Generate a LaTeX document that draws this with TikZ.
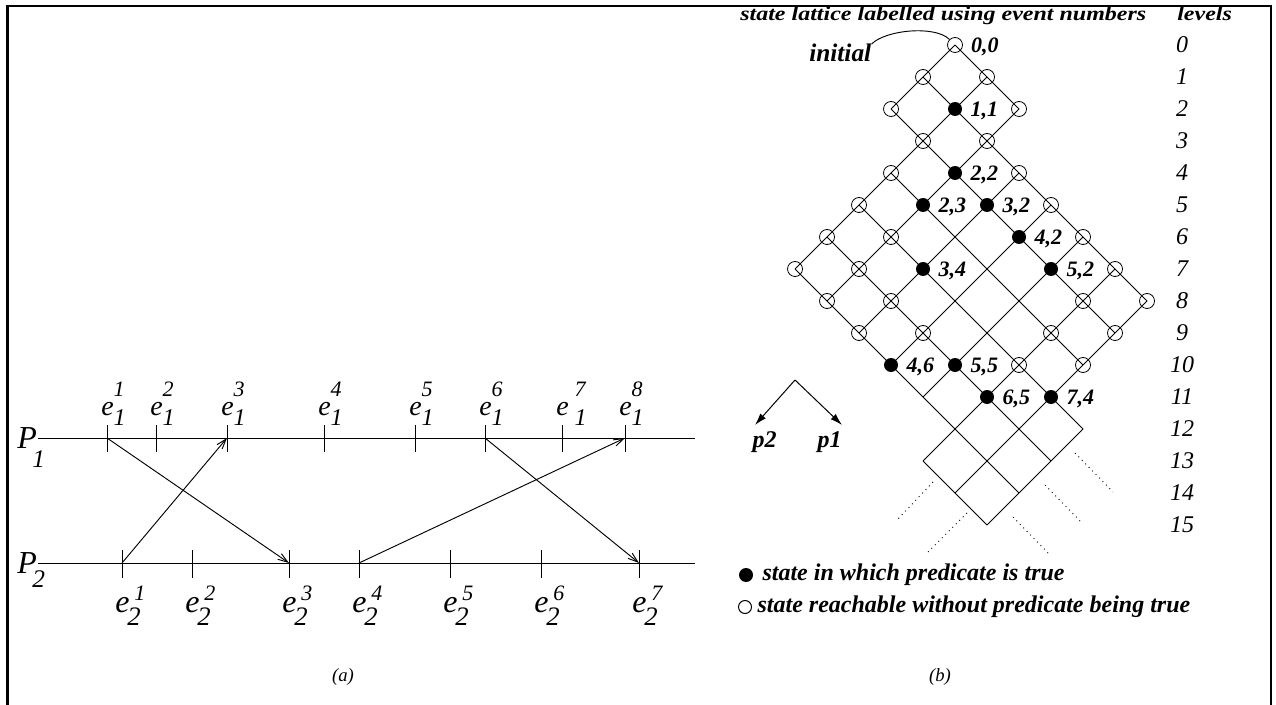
\documentclass[tikz,border=0pt]{standalone}
\usepackage{fontspec}
\setmainfont{Liberation Serif}
\newfontfamily\widefont[FakeStretch=1.2]{Liberation Serif}
\usetikzlibrary{positioning,arrows.meta}

\newcommand{\supf}{\fontsize{16.5}{18}\selectfont\itshape}
\newcommand{\subf}{\fontsize{18}{20}\selectfont\itshape}
\newcommand{\bsubf}{\fontsize{20}{22}\selectfont\itshape}
\newcommand{\pdig}{\fontsize{19}{21}\selectfont\itshape}
% event labels: e with process number below and event number above
\newcommand{\evtop}[3][0pt]{\textit{e}\kern#1\rlap{\raisebox{13.5pt}{\supf #3}}\raisebox{-7.5pt}{\subf #2}}
\newcommand{\evbot}[2]{{\fontsize{24}{26}\selectfont\textit{e}}\rlap{\kern3.75pt\raisebox{9pt}{\supf #2}}\kern-1.5pt\raisebox{-9.75pt}{\bsubf #1}}

\begin{document}
\begin{tikzpicture}[x=0.75pt, y=-0.75pt,
  frame/.style={line width=1.8pt},
  proc/.style={line width=0.75pt},
  msg/.style={line width=0.7pt, -{Straight Barb[length=7.5pt,width=5pt]}},
  dirarrow/.style={line width=0.75pt, -{Latex[length=9pt,width=5.5pt]}},
  latline/.style={line width=0.6pt},
  dots/.style={line width=0.7pt, dash pattern=on 0.7pt off 3pt},
  reach/.style={circle, draw, line width=0.6pt, minimum size=11.25pt, inner sep=0pt},
  hit/.style={circle, fill=black, minimum size=10.5pt, inner sep=0pt},
  lab/.style={font=\bfseries\itshape\fontsize{16.5}{18}\selectfont, inner sep=0pt, text depth=0pt},
  tag/.style={font=\bfseries\itshape\fontsize{18}{20}\selectfont, inner sep=0pt},
  head/.style={font=\widefont\bfseries\itshape\fontsize{15}{18}\selectfont, inner sep=0pt, anchor=base west},
  lvl/.style={font=\itshape\fontsize{18}{20}\selectfont, inner sep=0pt},
  ev/.style={font=\fontsize{21}{24}\selectfont, inner sep=0pt, anchor=base west},
  pname/.style={font=\fontsize{24}{26}\selectfont, inner sep=0pt, anchor=base west},
  subcap/.style={font=\itshape\fontsize{14}{16}\selectfont, inner sep=0pt}]

\useasboundingbox (0,0) rectangle (1276,705);
\draw[frame] (7.5,705) -- (7.5,6) -- (1271,6) -- (1271,705);

% (a) space-time diagram
\node[pname] (P1) at (17,448) {\textit{P}\kern-3.4pt\raisebox{-14.25pt}{\pdig 1}};
\node[pname] (P2) at (17,573) {\textit{P}\kern-3.4pt\raisebox{-10.5pt}{\pdig 2}};
\coordinate (P1a) at (38,438); \coordinate (P1b) at (695,438);
\coordinate (P2a) at (38,563); \coordinate (P2b) at (695,563);
\draw[proc] (P1a) -- (P1b);
\draw[proc] (P2a) -- (P2b);

\foreach \x/\g [count=\k] in {107/0,156/0,227/0,324/0,415/0,485/0,562/4.5,625/0}{
  \coordinate (t1-\k) at (\x,438);
  \draw[proc] (\x,425) -- (\x,452);
  \node[ev] (e1-\k) at (\x-6,415) {\evtop[\g pt]{1}{\k}};
}
\foreach \x [count=\k] in {122,192,289,359,450,541,639}{
  \coordinate (t2-\k) at (\x,563);
  \draw[proc] (\x,550) -- (\x,578);
  \node[ev] (e2-\k) at (\x-7,612) {\evbot{2}{\k}};
}

\draw[msg] (t1-1) -- (t2-3);
\draw[msg] (t2-1) -- (t1-3);
\draw[msg] (t2-4) -- (t1-8);
\draw[msg] (t1-6) -- (t2-7);

\node[subcap] (capa) at (343,677) {(a)};

% (b) lattice of consistent cuts
\node[head] (title) at (740,21) {state lattice labelled using event numbers};
\node[head] (levels) at (1177,21) {levels};
\foreach \k in {0,...,15}
  \node[lvl] (lv\k) at (1182,{45+32*\k}) {\k};

\foreach \a in {0,...,8}
  \foreach \b in {0,...,7}
    \coordinate (s-\a-\b) at ({955+32*(\a-\b)},{45+32*(\a+\b)});

\foreach \b/\lo/\hi in {0/0/2,1/0/7,2/0/7,3/1/7,4/1/8,5/1/8,6/1/8,7/6/8}
  \draw[latline] (s-\lo-\b) -- (s-\hi-\b);
\foreach \a/\lo/\hi in {0/0/2,1/0/6,2/0/6,3/1/6,4/1/6,5/1/6,6/1/7,7/1/7,8/4/7}
  \draw[latline] (s-\a-\lo) -- (s-\a-\hi);

\foreach \a/\b in {0/0,1/0,0/1,2/0,0/2,2/1,1/2,3/1,1/3,4/1,1/4,5/1,2/4,1/5,6/1,2/5,1/6,
                   7/1,6/2,3/5,2/6,7/2,6/3,4/5,3/6,7/3,6/4}
  \node[reach] (c-\a-\b) at (s-\a-\b) {};
\foreach \a/\b in {1/1,2/2,2/3,3/2,4/2,3/4,5/2,4/6,5/5,6/5,7/4}{
  \node[hit] (c-\a-\b) at (s-\a-\b) {};
  \node[lab, right=6pt of c-\a-\b] (n-\a-\b) {\a,\b};
}
\node[lab, right=6pt of c-0-0] (n-0-0) {0,0};

\node[tag, anchor=base west, font=\bfseries\itshape\fontsize{19}{21}\selectfont] (init) at (809,62) {initial};
\draw[line width=0.7pt] (init.north east) .. controls (885,30) and (935,25) .. (c-0-0.north west);

\draw[dots] (1075,453) -- (1113,492);
\draw[dots] (1045,485) -- (1082,523);
\draw[dots] (1013,517) -- (1050,555);
\draw[dots] (933,482) -- (897,520);
\draw[dots] (967,513) -- (928,552);

\coordinate (dir) at (795,380);
\coordinate (dir2) at (755,425);
\coordinate (dir1) at (842,425);
\draw[dirarrow] (dir) -- (dir2);
\draw[dirarrow] (dir) -- (dir1);
\node[tag, below right=5pt and -2pt of dir2] (p2) {p2};
\node[tag, below left=5pt and 0pt of dir1] (p1) {p1};

\node[hit] (k1) at (746,575) {};
\node[tag, right=6.75pt of k1] (k1t) {state in which predicate is true};
\node[reach, minimum size=9.75pt, line width=0.75pt] (k2) at (745,607) {};
\node[tag, right=4pt of k2] (k2t) {state reachable without predicate being true};

\node[subcap] (capb) at (940,677) {(b)};
\end{tikzpicture}
\end{document}
